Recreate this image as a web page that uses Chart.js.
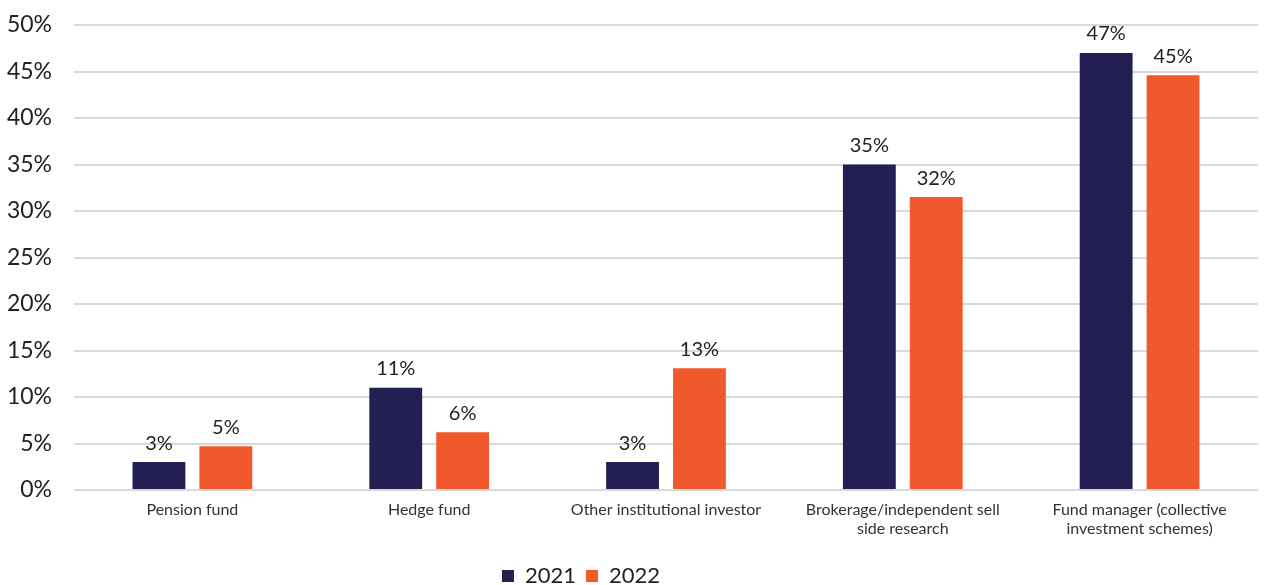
<!DOCTYPE html>
<html>
<head>
<meta charset="utf-8">
<script src="https://cdn.jsdelivr.net/npm/chart.js@4"></script>
<style>
  html, body { margin: 0; padding: 0; background: #fff; }
  #wrap { width: 1264px; height: 585px; }
</style>
</head>
<body>
<div id="wrap"><canvas id="investorChart"></canvas></div>
<script>
// chart data
const categories = [
    'Pension fund',
    'Hedge fund',
    'Other institutional investor',
    ['Brokerage/independent sell', 'side research'],
    ['Fund manager (collective', 'investment schemes)']
];
const values2021 = [3, 11, 3, 35, 47];
const values2022 = [4.7, 6.2, 13.1, 31.5, 44.6];
const yTicks = [0, 5, 10, 15, 20, 25, 30, 35, 40, 45, 50];

const navy = '#231f52';
const orange = '#f0592b';
const fontName = 'Lato, "DejaVu Sans", sans-serif';

// simple value labels on top of the bars
const barLabels = {
    id: 'barLabels',
    afterDatasetsDraw(chart) {
        const ctx = chart.ctx;
        ctx.save();
        ctx.font = '20px ' + fontName;
        ctx.fillStyle = '#222';
        ctx.textAlign = 'center';
        ctx.textBaseline = 'bottom';
        chart.data.datasets.forEach((ds, i) => {
            chart.getDatasetMeta(i).data.forEach((bar, j) => {
                ctx.fillText(Math.round(ds.data[j]) + '%', bar.x, bar.y - 9);
            });
        });
        ctx.restore();
    }
};

// the legend in the original sits a bit left of centre
const legendShift = {
    id: 'legendShift',
    afterLayout(chart) {
        chart.legend.left -= 48;
        chart.legend.right -= 48;
    }
};

function createChart() {
    const ctx = document.getElementById('investorChart').getContext('2d');

    new Chart(ctx, {
        type: 'bar',
        data: {
            labels: categories,
            datasets: [{
                label: '2021',
                data: values2021,
                backgroundColor: navy,
                categoryPercentage: 0.565,
                barPercentage: 0.79
            }, {
                label: '2022',
                data: values2022,
                backgroundColor: orange,
                categoryPercentage: 0.565,
                barPercentage: 0.79
            }]
        },
        plugins: [barLabels, legendShift],
        options: {
            responsive: true,
            maintainAspectRatio: false,
            animation: false,
            layout: { padding: { top: 25, right: 6, left: 0, bottom: -12 } },
            plugins: {
                tooltip: { enabled: false },
                legend: {
                    position: 'bottom',
                    labels: {
                        font: { family: fontName, size: 22 },
                        color: '#222',
                        boxWidth: 12,
                        boxHeight: 12,
                        padding: 10
                    }
                }
            },
            scales: {
                x: {
                    grid: { display: false },
                    border: { display: false },
                    afterFit: scale => { scale.height = 65; },
                    ticks: {
                        font: { family: fontName, size: 16 },
                        color: '#333',
                        padding: 2,
                        maxRotation: 0,
                        autoSkip: false
                    }
                },
                y: {
                    min: 0,
                    max: 50,
                    afterBuildTicks: scale => {
                        scale.ticks = yTicks.map(v => ({ value: v }));
                    },
                    afterFit: scale => {
                        scale.width = 74;
                        scale.paddingTop = 0;
                        scale.paddingBottom = 0;
                    },
                    grid: { color: '#d9d9d9', lineWidth: 2, drawTicks: false },
                    border: { display: false },
                    ticks: {
                        font: { family: fontName, size: 23 },
                        color: '#222',
                        padding: 22,
                        callback: v => v + '%'
                    }
                }
            }
        }
    });
}

window.addEventListener('load', createChart);
</script>
</body>
</html>
